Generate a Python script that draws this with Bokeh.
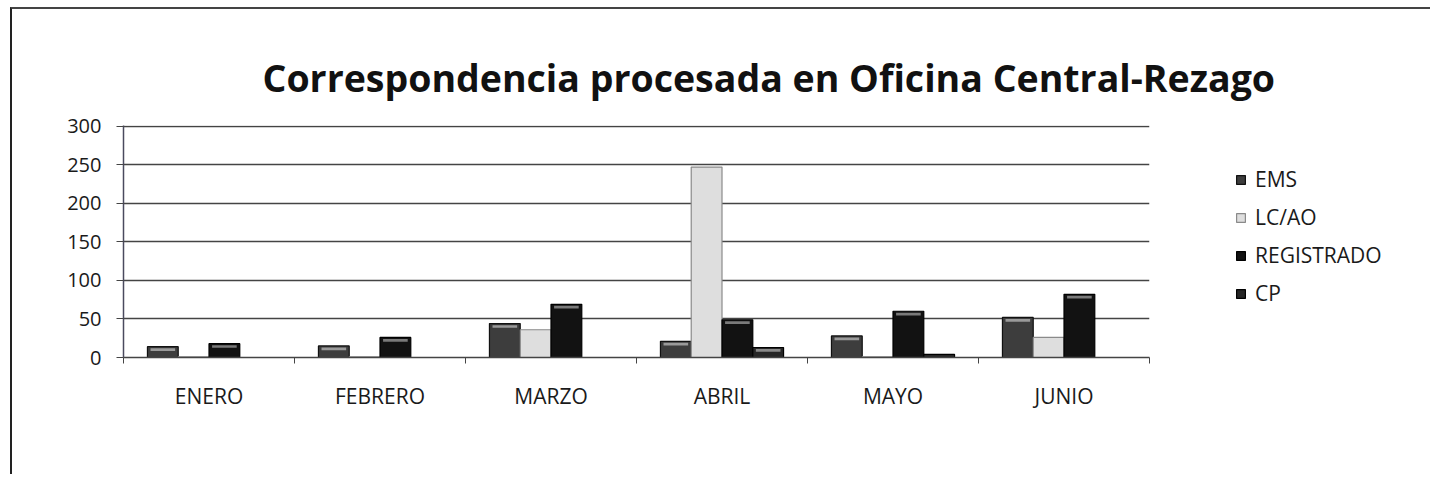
from bokeh.plotting import figure
from bokeh.models import (Range1d, FixedTicker, Legend, LegendItem, Title, ColumnDataSource)
from bokeh.embed import file_html
from bokeh.resources import INLINE

# ---- data ----
months = ["ENERO", "FEBRERO", "MARZO", "ABRIL", "MAYO", "JUNIO"]
series_names = ["EMS", "LC/AO", "REGISTRADO", "CP"]
ems = [14, 15, 44, 21, 28, 52]
lcao = [1, 1, 36, 247, 1, 26]
registrado = [18, 26, 69, 49, 60, 82]
cp = [0, 0, 0, 13, 4, 0]
y_ticks = [0, 50, 100, 150, 200, 250, 300]

series_values = [ems, lcao, registrado, cp]
fills = ["#3d3d3d", "#dedede", "#121212", "#262626"]
lines = ["#111111", "#8a8a8a", "#000000", "#000000"]
highlights = ["#9a9a9a", "#f4f4f4", "#7a7a7a", "#8a8a8a"]
offsets = [-0.27, -0.09, 0.09, 0.27]
bar_w = 0.18

FONT = "Open Sans"

p = figure(frame_width=1026, frame_height=232, output_backend="svg", toolbar_location=None,
           x_range=Range1d(0, len(months)), y_range=Range1d(0, 301),
           min_border_left=111, min_border_right=271, min_border_top=116,
           min_border_bottom=117)
p.styles = {"border-left": "2px solid #222222", "border-top": "2px solid #444444",
            "margin-left": "10px", "margin-top": "7px"}
p.background_fill_color = "white"
p.border_fill_color = "white"
p.outline_line_color = None

# title
t = Title(text="Correspondencia procesada en Oficina Central-Rezago",
          text_font=FONT, text_font_size="37.5px", text_font_style="bold",
          text_color="#111111", align="left", offset=139, standoff=46)
p.add_layout(t, "above")

renderers = []
for k, (name, vals) in enumerate(zip(series_names, series_values)):
    xs = [i + 0.5 + offsets[k] for i in range(len(months))]
    src = ColumnDataSource(dict(x=xs, top=vals))
    r = p.vbar(x="x", top="top", bottom=0, width=bar_w, source=src,
               fill_color=fills[k], line_color=lines[k], line_width=1.2)
    renderers.append(r)
    hx = [x for x, v in zip(xs, vals) if v > 8]
    hv = [v for v in vals if v > 8]
    if k != 1:
        hsrc = ColumnDataSource(dict(x=hx, top=[v - 2.0 for v in hv],
                                     bottom=[v - 5.5 for v in hv]))
        p.vbar(x="x", top="top", bottom="bottom", width=bar_w * 0.8, source=hsrc,
               fill_color=highlights[k], line_color=None)

# y axis
p.yaxis.ticker = FixedTicker(ticks=y_ticks)
p.yaxis.axis_line_color = "#4a4a5e"
p.yaxis.axis_line_width = 1.5
p.yaxis.major_tick_line_color = "#444444"
p.yaxis.major_tick_out = 7
p.yaxis.major_tick_in = 0
p.yaxis.minor_tick_line_color = None
p.yaxis.major_label_text_font = FONT
p.yaxis.major_label_text_font_size = "20px"
p.yaxis.major_label_text_color = "#1a1a1a"
p.yaxis.major_label_standoff = 15

p.ygrid.ticker = FixedTicker(ticks=y_ticks)
p.ygrid.grid_line_color = "#444444"
p.ygrid.grid_line_width = 1.5
p.xgrid.grid_line_color = None

# x axis: labels at centres, small ticks at boundaries
centres = [i + 0.5 for i in range(len(months))]
bounds = [float(i) for i in range(len(months) + 1)]
p.xaxis.ticker = FixedTicker(ticks=centres, minor_ticks=bounds)
p.xaxis.major_label_overrides = {c: m for c, m in zip(centres, months)}
p.xaxis.major_tick_line_color = None
p.xaxis.major_tick_out = 0
p.xaxis.major_tick_in = 0
p.xaxis.minor_tick_line_color = "#444444"
p.xaxis.minor_tick_out = 6
p.xaxis.minor_tick_in = 0
p.xaxis.axis_line_color = "#444444"
p.xaxis.axis_line_width = 1.5
p.xaxis.major_label_text_font = FONT
p.xaxis.major_label_text_font_size = "21px"
p.xaxis.major_label_text_color = "#1a1a1a"
p.xaxis.major_label_standoff = 18

legend = Legend(items=[LegendItem(label=n, renderers=[r]) for n, r in zip(series_names, renderers)],
                location=(86, 50), orientation="vertical",
                label_text_font=FONT, label_text_font_size="21px", label_text_color="#1a1a1a",
                glyph_width=11, glyph_height=11, label_height=28, spacing=10,
                label_standoff=9, padding=0, margin=0,
                border_line_color=None, background_fill_alpha=0)
p.add_layout(legend, "right")

open("out.html", "w").write(file_html(p, INLINE))
